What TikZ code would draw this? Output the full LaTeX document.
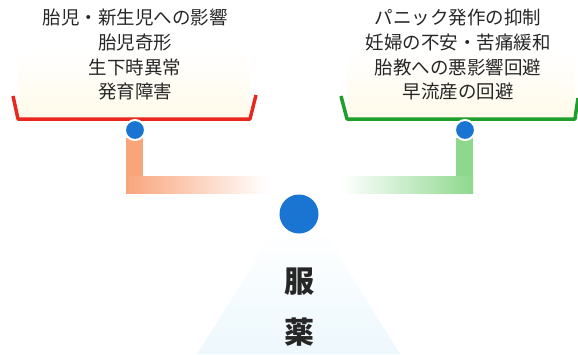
\documentclass[tikz,border=0pt]{standalone}
\usepackage{fontspec}
\newfontfamily\jp{Noto Sans CJK JP}
\usetikzlibrary{fadings}
\definecolor{txt}{HTML}{262626}
\definecolor{panred}{HTML}{E8281E}
\definecolor{pangreen}{HTML}{1E9E2A}
\definecolor{barorange}{HTML}{F9A57C}
\definecolor{bargreen}{HTML}{8ED88E}
\definecolor{dotblue}{HTML}{1A74D2}
\definecolor{cream}{HTML}{FFFAEA}
\definecolor{fulcrum}{HTML}{EDF8FD}
\tikzset{
  lbl/.style={font=\jp\fontsize{18.5}{24.5}\selectfont, text=txt, align=center, inner sep=0pt},
  big/.style={font=\jp\bfseries\fontsize{30}{30}\selectfont, text=txt, inner sep=0pt},
  pan/.style={line width=3.5pt, line join=round},
  dot/.style={circle, fill=dotblue, draw=white, line width=2pt, minimum size=20pt, inner sep=0pt},
}
\begin{document}
\begin{tikzpicture}[x=1pt,y=-1pt]
\useasboundingbox (0,0) rectangle (578,354);
% cream pan backgrounds
\shade[top color=white, bottom color=cream] (18,50) rectangle (250,118);
\shade[top color=white, bottom color=cream] (347,50) rectangle (575,118);
% fulcrum
\shade[top color=white, bottom color=fulcrum] (276,228) -- (322,228) -- (400,354) -- (197,354) -- cycle;
% bars
\fill[barorange] (126,138) rectangle (143,193);
\shade[left color=barorange, right color=white] (126,176) rectangle (268,193);
\fill[bargreen] (456,138) rectangle (473,193);
\shade[left color=white, right color=bargreen] (342,176) rectangle (473,193);
% pans
\draw[pan, panred] (13,96) -- (18,119) -- (250,119) -- (256,95);
\draw[pan, pangreen] (341,96) -- (347,119) -- (575,119) -- (578,98);
% dots
\node[dot] (dl) at (135,130) {};
\node[dot] (dr) at (465,130) {};
\node[circle, fill=dotblue, minimum size=39pt, inner sep=0pt] (dc) at (299,214) {};
% texts
\node[lbl] (l1) at (135,18) {胎児・新生児への影響};
\node[lbl] (l2) at (135,42.5) {胎児奇形};
\node[lbl] (l3) at (135,67) {生下時異常};
\node[lbl] (l4) at (135,91.5) {発育障害};
\node[lbl] (r1) at (458,18) {パニック発作の抑制};
\node[lbl] (r2) at (458,42.5) {妊婦の不安・苦痛緩和};
\node[lbl] (r3) at (458,67) {胎教への悪影響回避};
\node[lbl] (r4) at (458,91.5) {早流産の回避};
\node[big] (c1) at (299,282) {服};
\node[big] (c2) at (299,332) {薬};
\end{tikzpicture}
\end{document}
